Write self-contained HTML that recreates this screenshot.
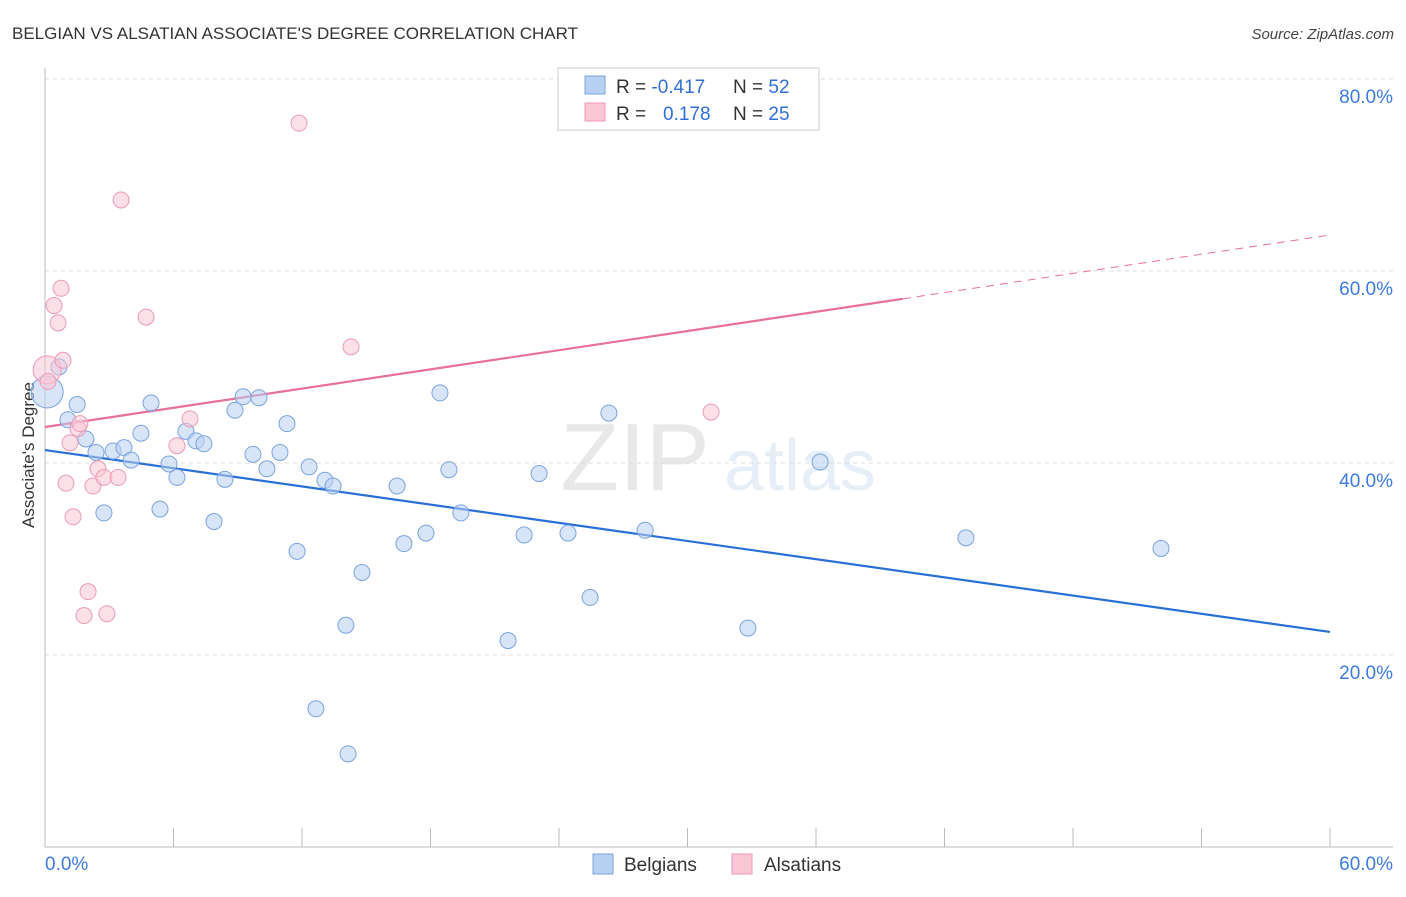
<!DOCTYPE html>
<html><head><meta charset="utf-8"><style>
body{margin:0;background:#fff;font-family:"Liberation Sans",sans-serif;}
svg text{font-family:"Liberation Sans",sans-serif;}
</style></head><body>
<svg id="chart" width="1406" height="892" viewBox="0 0 1406 892" xmlns="http://www.w3.org/2000/svg">
<text x="12" y="39" font-size="17" fill="#333">BELGIAN VS ALSATIAN ASSOCIATE'S DEGREE CORRELATION CHART</text>
<text x="1394" y="39" font-size="15" fill="#444" text-anchor="end" font-style="italic">Source: ZipAtlas.com</text>
<text transform="translate(34,455) rotate(-90)" font-size="17" fill="#333" text-anchor="middle">Associate's Degree</text>
<g opacity="0.13">
<text x="635" y="490" font-size="96" fill="#555" text-anchor="middle" font-family="Liberation Serif">ZIP</text>
<text x="800" y="490" font-size="72" fill="#4a7fd0" text-anchor="middle">atlas</text>
</g>
<g id="grid"></g><g id="axes"></g><g id="trends"></g><g id="points"></g>
<g>
<rect x="558" y="68" width="261" height="62" fill="#fff" stroke="#ccc"/>
<rect x="585" y="76" width="20" height="18" fill="#b8d0f2" stroke="#7aa3e0"/>
<rect x="585" y="103" width="20" height="18" fill="#f9c6d5" stroke="#ee9ab5"/>
<text x="616" y="93" font-size="19" fill="#333">R = <tspan fill="#2f6fd6">-0.417</tspan><tspan x="733">N = </tspan><tspan fill="#2f6fd6">52</tspan></text>
<text x="616" y="120" font-size="19" fill="#333">R = <tspan x="663" fill="#2f6fd6">0.178</tspan><tspan x="733">N = </tspan><tspan fill="#2f6fd6">25</tspan></text>
</g>
<g>
<rect x="593" y="854" width="20" height="20" fill="#b8d0f2" stroke="#7aa3e0"/>
<text x="624" y="871" font-size="19" fill="#333">Belgians</text>
<rect x="732" y="854" width="20" height="20" fill="#f9c6d5" stroke="#ee9ab5"/>
<text x="764" y="871" font-size="19" fill="#333">Alsatians</text>
</g>
</svg>
<script>
const yTicks=[20,40,60,80];
const xTickLabels=["0.0%","60.0%"];
const blueX=[0.1,0.65,1.5,1.07,1.91,2.38,3.18,3.69,4.02,2.75,4.48,4.95,5.37,5.79,6.16,6.58,7.05,7.42,7.89,8.4,8.87,9.25,9.71,9.99,10.36,10.97,11.3,11.77,12.33,12.65,13.07,13.45,14.05,14.15,14.8,16.44,16.76,17.79,18.44,18.86,19.42,21.62,22.37,23.07,24.42,25.45,26.33,28.02,32.82,36.19,43.0,52.11];
const blueY=[47.4,50.0,46.1,44.5,42.5,41.1,41.25,41.6,40.3,34.8,43.1,46.25,35.2,39.9,38.5,43.3,42.3,42.0,33.9,38.3,45.5,46.9,40.9,46.8,39.4,41.1,44.1,30.8,39.6,14.4,38.2,37.6,23.1,9.7,28.6,37.6,31.6,32.7,47.3,39.3,34.8,21.5,32.5,38.9,32.7,26.0,45.2,33.0,22.8,40.1,32.2,31.1];
const pinkX=[0.1,0.14,0.42,0.61,0.75,0.84,0.98,1.17,1.31,1.54,1.63,2.01,1.82,2.24,2.47,2.75,2.89,3.41,3.55,4.72,6.16,6.77,11.86,14.29,31.1];
const pinkY=[49.7,48.5,56.4,54.6,58.2,50.7,37.9,42.1,34.4,43.6,44.1,26.6,24.1,37.6,39.4,38.5,24.3,38.5,67.4,55.2,41.8,44.6,75.4,52.1,45.3];
const blueTrend=[41.35,22.4];
const pinkTrend=[43.75,63.75];
const pinkSolidEnd=40.06;
const NS="http://www.w3.org/2000/svg";
const X0=45,X1=1330,Y0=847,PY=9.6;
function sx(v){return X0+(X1-X0)*v/60;}
function sy(v){return Y0-v*PY;}
function mk(tag,attrs,parent){const e=document.createElementNS(NS,tag);for(const k in attrs)e.setAttribute(k,attrs[k]);document.getElementById(parent).appendChild(e);return e;}
yTicks.forEach(t=>{
 const l=mk('line',{x1:45,x2:1393,y1:sy(t),y2:sy(t),stroke:'#ddd','stroke-dasharray':'4,4'},'grid');
 
 
 const tx=mk('text',{x:1393,y:sy(t)+24,'font-size':19,fill:'#3d7be0','text-anchor':'end'},'grid');
 tx.textContent=t.toFixed(1)+'%';
 
 
});
const tg=mk('line',{x1:45,x2:1393,y1:79,y2:79,stroke:'#ddd','stroke-dasharray':'4,4'},'grid');
mk('line',{x1:45,x2:45,y1:68,y2:847,stroke:'#bbb'},'axes');
mk('line',{x1:45,x2:1393,y1:847,y2:847,stroke:'#bbb'},'axes');
for(let i=0;i<=10;i++){
 const t=mk('line',{x1:sx(i*6),x2:sx(i*6),y1:828,y2:847,stroke:'#bbb'},'axes');
 
 
}
[[0,'start',45],[1,'end',1393]].forEach(([i,a,x])=>{
 const tx=mk('text',{x:x,y:870,'font-size':19,fill:'#3d7be0','text-anchor':a},'axes');
 tx.textContent=xTickLabels[i];
 
 
});
function pt(x,y,fill,stroke,r){
 const c=mk('circle',{cx:sx(x),cy:sy(y),r:r,fill:fill,stroke:stroke,'stroke-width':1,'fill-opacity':0.55},'points');
 return c;
}
blueX.forEach((x,i)=>{
 const c=pt(x,blueY[i],'#b8d0f2','#7aa3e0',i===0?16:8);
 
 
});
pinkX.forEach((x,i)=>{
 const c=pt(x,pinkY[i],'#f9c6d5','#ee9ab5',i===0?14:8);
 
 
});
const bl=mk('line',{x1:sx(0),y1:sy(blueTrend[0]),x2:sx(60),y2:sy(blueTrend[1]),stroke:'#2a6fd6','stroke-width':2.2},'trends');


const pm=pinkTrend[0]+(pinkTrend[1]-pinkTrend[0])*pinkSolidEnd/60;
const pl=mk('line',{x1:sx(0),y1:sy(pinkTrend[0]),x2:sx(pinkSolidEnd),y2:sy(pm),stroke:'#e8709a','stroke-width':2.2},'trends');


const pd=mk('line',{x1:sx(pinkSolidEnd),y1:sy(pm),x2:sx(60),y2:sy(pinkTrend[1]),stroke:'#e8709a','stroke-width':1,'stroke-dasharray':'8,6'},'trends');


</script>
</body></html>
